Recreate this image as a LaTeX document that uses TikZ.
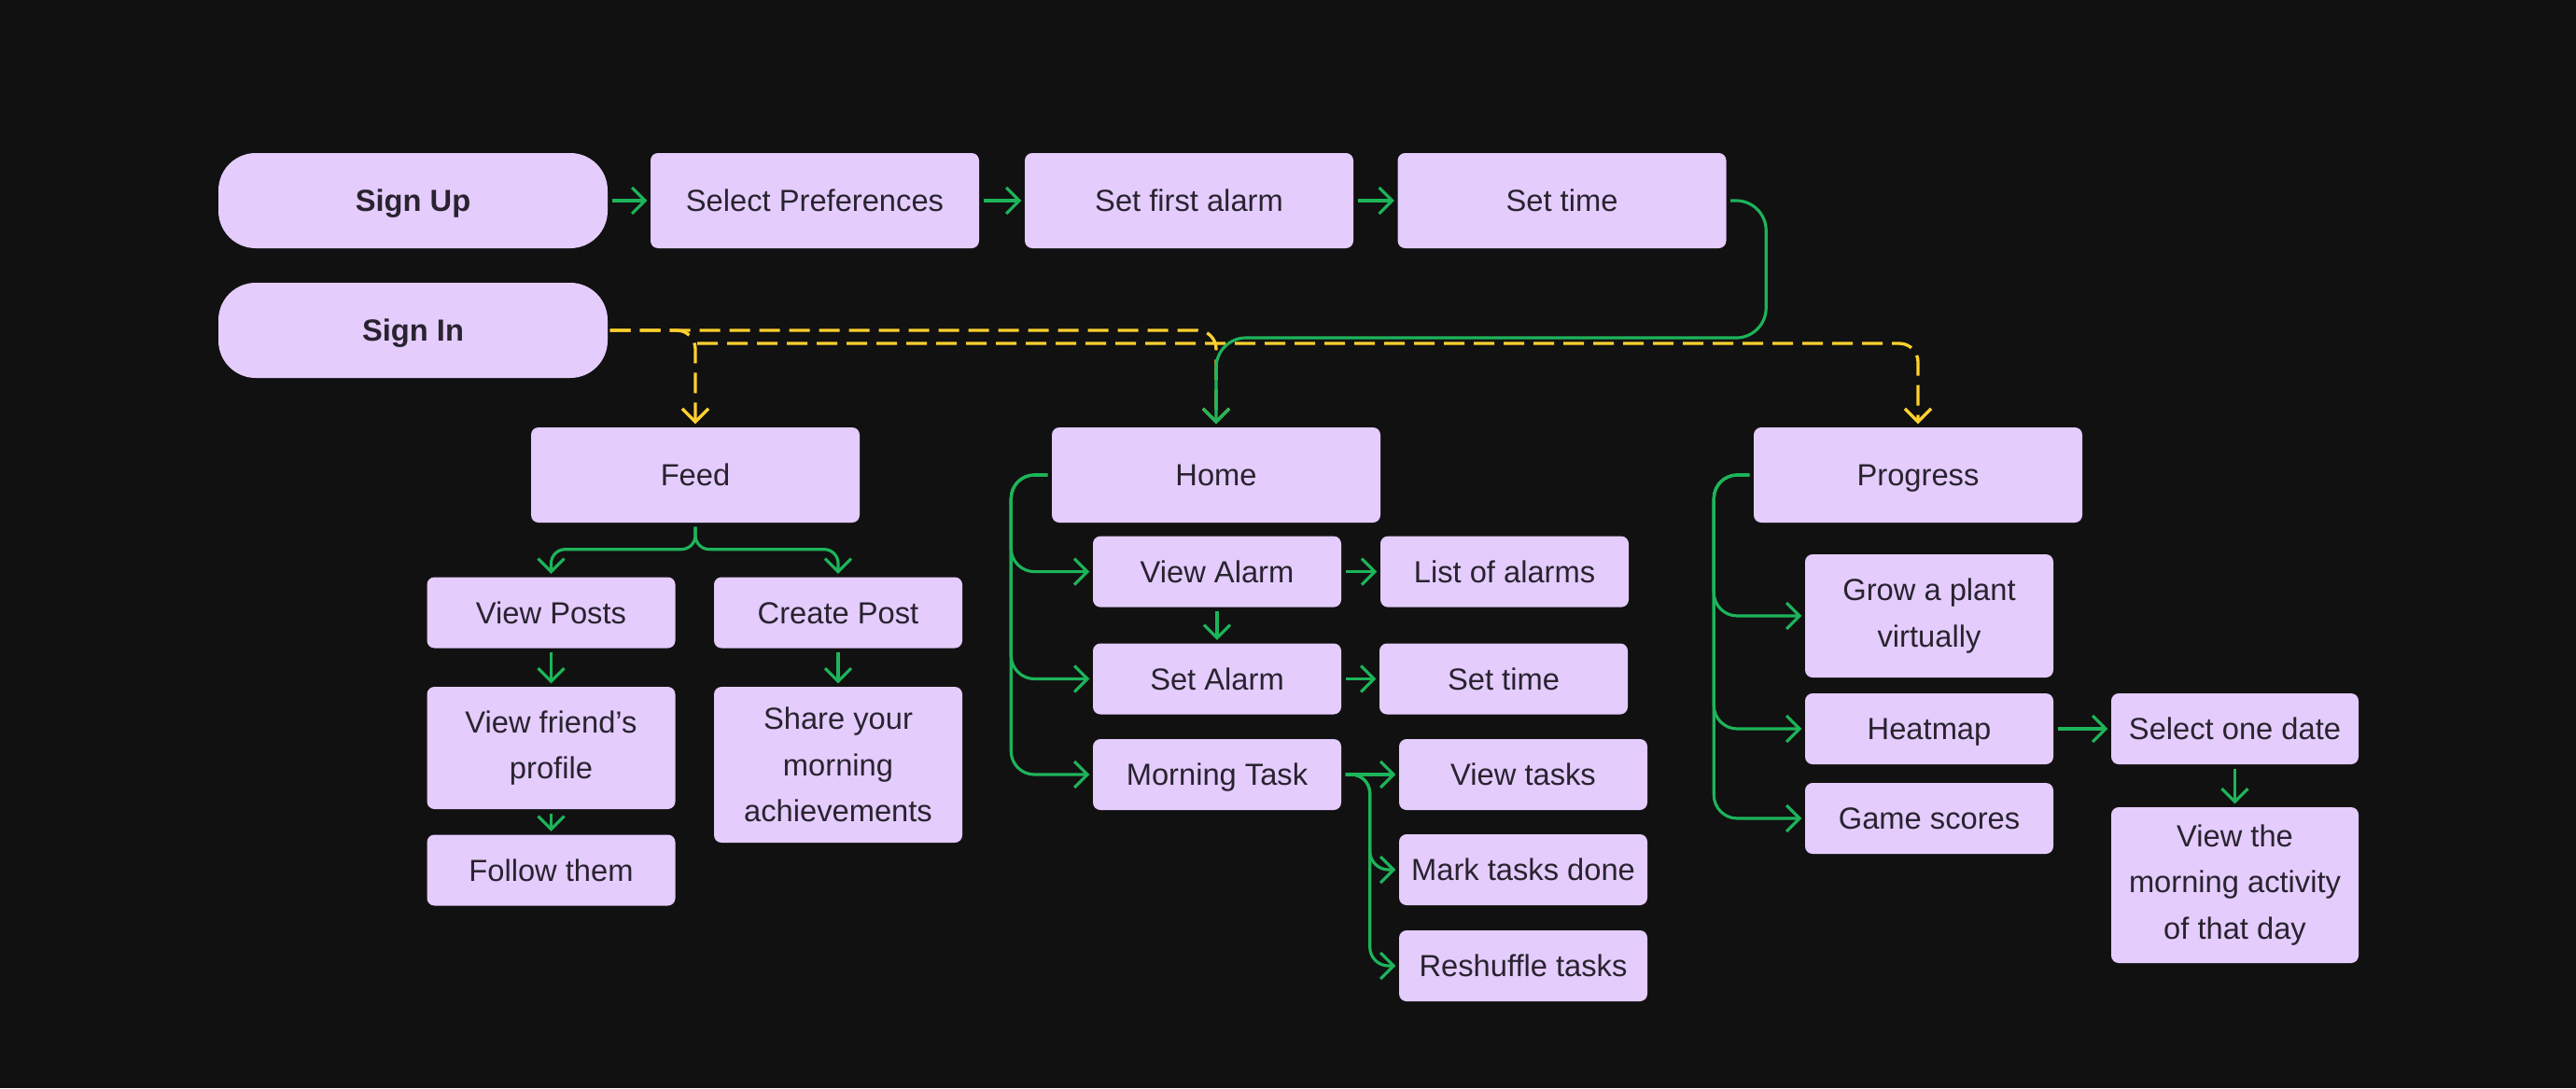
\documentclass[tikz,border=0pt]{standalone}
\usepackage{fontspec}
\setmainfont{Liberation Sans}
\usetikzlibrary{arrows.meta}
\definecolor{bgdark}{HTML}{111111}
\definecolor{boxfill}{HTML}{E4CCFD}
\definecolor{boxtext}{HTML}{29232F}
\definecolor{flowgreen}{HTML}{1DB45A}
\definecolor{linkyellow}{HTML}{FFD02E}

\begin{document}
\begin{tikzpicture}[x=1cm,y=1cm,
  boxbase/.style={rectangle,rounded corners=0.08cm,fill=boxfill,text=boxtext,align=center,
    inner sep=0pt,minimum width=3.52cm,minimum height=1.02cm,font=\fontsize{9.3}{14}\selectfont},
  box/.style={boxbase,text height=6.7pt,text depth=0pt},
  smallbox/.style={box,minimum width=2.66cm,minimum height=0.76cm},
  multibox/.style={boxbase,minimum width=2.66cm},
  startbox/.style={box,rounded corners=0.4cm,minimum width=4.17cm,font=\fontsize{9.3}{14}\selectfont\bfseries},
  flow/.style={draw=flowgreen,line width=0.9pt,rounded corners=0.25cm,shorten <=0.04cm,shorten >=0.03cm,
    -{Straight Barb[length=1.4mm,width=2.8mm]}},
  signinlink/.style={flow,draw=linkyellow,line width=0.95pt,rounded corners=0.2cm,
    dash pattern=on 0.22cm off 0.1cm,shorten <=0.02cm}]
  \fill[bgdark] (0,0) rectangle (27.6,-11.66);

  \node[startbox] (signup) at (4.425,-2.15) {Sign Up};
  \node[startbox] (signin) at (4.425,-3.54) {Sign In};
  \node[box] (selpref) at (8.73,-2.15) {Select Preferences};
  \node[box] (firstalarm) at (12.74,-2.15) {Set first alarm};
  \node[box] (settimea) at (16.735,-2.15) {Set time};

  \node[box] (feed) at (7.45,-5.09) {Feed};
  \node[box] (home) at (13.03,-5.09) {Home};
  \node[box] (progress) at (20.55,-5.09) {Progress};

  \node[smallbox] (viewposts) at (5.905,-6.565) {View Posts};
  \node[smallbox] (createpost) at (8.98,-6.565) {Create Post};
  \node[multibox,minimum height=1.31cm] (viewprofile) at (5.905,-8.015) {View friend’s\\profile};
  \node[multibox,minimum height=1.67cm] (share) at (8.98,-8.195) {Share your\\morning\\achievements};
  \node[smallbox] (follow) at (5.905,-9.325) {Follow them};

  \node[smallbox] (viewalarm) at (13.04,-6.126) {View Alarm};
  \node[smallbox] (listalarms) at (16.12,-6.126) {List of alarms};
  \node[smallbox] (setalarm) at (13.04,-7.275) {Set Alarm};
  \node[smallbox] (settimeb) at (16.11,-7.275) {Set time};
  \node[smallbox] (morningtask) at (13.04,-8.30) {Morning Task};
  \node[smallbox] (viewtasks) at (16.32,-8.30) {View tasks};
  \node[smallbox] (marktasks) at (16.32,-9.32) {Mark tasks done};
  \node[smallbox] (reshuffle) at (16.32,-10.35) {Reshuffle tasks};

  \node[multibox,minimum height=1.32cm] (grow) at (20.67,-6.60) {Grow a plant\\virtually};
  \node[smallbox] (heatmap) at (20.67,-7.81) {Heatmap};
  \node[smallbox] (gamescores) at (20.67,-8.77) {Game scores};
  \node[smallbox,minimum width=2.65cm] (selectdate) at (23.945,-7.81) {Select one date};
  \node[multibox,minimum width=2.65cm,minimum height=1.67cm] (viewactivity) at (23.945,-9.485) {View the\\morning activity\\of that day};

  \coordinate (split) at (7.45,-3.68);
  \coordinate (merge) at (13.03,-3.62);

  % sign in paths
  \draw[signinlink] (signin.east) -| (feed.north);
  \draw[signinlink] (signin.east) -| (home.north);
  \draw[signinlink] (split) -| (progress.north);

  % sign up paths
  \draw[flow] (signup) -- (selpref);
  \draw[flow] (selpref) -- (firstalarm);
  \draw[flow] (firstalarm) -- (settimea);
  \draw[flow,rounded corners=0.32cm] (settimea.east) -- ++(0.42,0) |- (merge) -- (home.north);

  \draw[flow,rounded corners=0.15cm] (feed.south) -- ++(0,-0.28) -| (viewposts.north);
  \draw[flow,rounded corners=0.15cm] (feed.south) -- ++(0,-0.28) -| (createpost.north);
  \draw[flow] (viewposts) -- (viewprofile);
  \draw[flow] (createpost) -- (share);
  \draw[flow] (viewprofile) -- (follow);

  \foreach \n in {viewalarm,setalarm,morningtask}
    \draw[flow] (home.west) -- ++(-0.43,0) |- (\n.west);
  \draw[flow] (viewalarm) -- (listalarms);
  \draw[flow] (viewalarm) -- (setalarm);
  \draw[flow] (setalarm) -- (settimeb);
  \draw[flow] (morningtask) -- (viewtasks);
  \foreach \n in {marktasks,reshuffle}
    \draw[flow,rounded corners=0.2cm] (morningtask.east) -- ++(0.3,0) |- (\n.west);

  \foreach \n in {grow,heatmap,gamescores}
    \draw[flow] (progress.west) -- ++(-0.42,0) |- (\n.west);
  \draw[flow] (heatmap) -- (selectdate);
  \draw[flow] (selectdate) -- (viewactivity);
\end{tikzpicture}
\end{document}
